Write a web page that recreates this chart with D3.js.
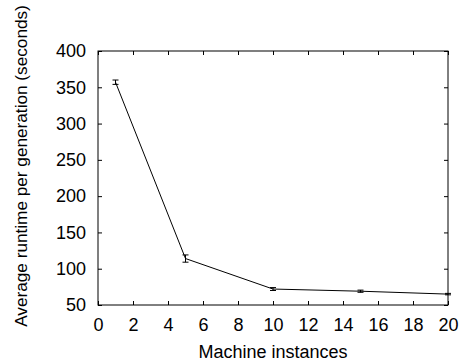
<!DOCTYPE html>
<html>
<head>
<meta charset="utf-8">
<script src="https://cdn.jsdelivr.net/npm/d3@7"></script>
<style>
  body { margin: 0; background: #fff; }
  text { font-family: "Liberation Sans", Arial, sans-serif; }
</style>
</head>
<body>
<svg id="chart" width="467" height="364"></svg>
<script>
// Chart data
const instances = [1, 5, 10, 15, 20];
const runtimes = [357, 114, 72, 69, 65];
const errors = [3, 5, 2, 1.5, 1];
const xTicks = [0, 2, 4, 6, 8, 10, 12, 14, 16, 18, 20];
const yTicks = [50, 100, 150, 200, 250, 300, 350, 400];

const svg = d3.select("#chart");
const margin = { left: 98, top: 51, right: 19, bottom: 59 };
const width = 467 - margin.left - margin.right;
const height = 364 - margin.top - margin.bottom;

const x = d3.scaleLinear().domain([0, 20]).range([margin.left, margin.left + width]);
const y = d3.scaleLinear().domain([50, 400]).range([margin.top + height, margin.top]);

const tickLen = 4;
const fontSize = 18;

// Inward ticks on all sides
svg.append("g")
    .attr("transform", `translate(0,${margin.top + height})`)
    .call(d3.axisBottom(x).tickValues(xTicks).tickSizeInner(-tickLen).tickSizeOuter(0).tickPadding(13))
    .call(g => g.select(".domain").remove())
    .selectAll("text").attr("font-size", fontSize).attr("fill", "#000");

svg.append("g")
    .attr("transform", `translate(0,${margin.top})`)
    .call(d3.axisTop(x).tickValues(xTicks).tickSizeInner(-tickLen).tickSizeOuter(0).tickFormat(""))
    .call(g => g.select(".domain").remove());

svg.append("g")
    .attr("transform", `translate(${margin.left},0)`)
    .call(d3.axisLeft(y).tickValues(yTicks).tickSizeInner(-tickLen).tickSizeOuter(0).tickPadding(12))
    .call(g => g.select(".domain").remove())
    .selectAll("text").attr("font-size", fontSize).attr("fill", "#000");

svg.append("g")
    .attr("transform", `translate(${margin.left + width},0)`)
    .call(d3.axisRight(y).tickValues(yTicks).tickSizeInner(-tickLen).tickSizeOuter(0).tickFormat(""))
    .call(g => g.select(".domain").remove());

svg.selectAll(".tick line").attr("stroke", "#000");

// Frame
svg.append("rect")
    .attr("x", margin.left)
    .attr("y", margin.top)
    .attr("width", width)
    .attr("height", height)
    .attr("fill", "none")
    .attr("stroke", "#000")
    .attr("stroke-width", 1);

const data = instances.map((d, i) => ({ x: d, y: runtimes[i], e: errors[i] }));

// Line
svg.append("path")
    .datum(data)
    .attr("fill", "none")
    .attr("stroke", "#000")
    .attr("stroke-width", 1)
    .attr("d", d3.line().x(d => x(d.x)).y(d => y(d.y)));

// Error bars
const eb = svg.append("g").attr("stroke", "#000").attr("stroke-width", 1);
data.forEach(d => {
    const cx = x(d.x);
    eb.append("line").attr("x1", cx).attr("x2", cx).attr("y1", y(d.y - d.e)).attr("y2", y(d.y + d.e));
    [d.y - d.e, d.y + d.e].forEach(v => {
        eb.append("line").attr("x1", cx - 3).attr("x2", cx + 3).attr("y1", y(v)).attr("y2", y(v));
    });
});

// Axis labels
svg.append("text")
    .attr("x", 273)
    .attr("y", 358)
    .attr("text-anchor", "middle")
    .attr("font-size", fontSize)
    .text("Machine instances");

svg.append("text")
    .attr("transform", "translate(27,166) rotate(-90)")
    .attr("text-anchor", "middle")
    .attr("font-size", 17.2)
    .text("Average runtime per generation (seconds)");
</script>
</body>
</html>
